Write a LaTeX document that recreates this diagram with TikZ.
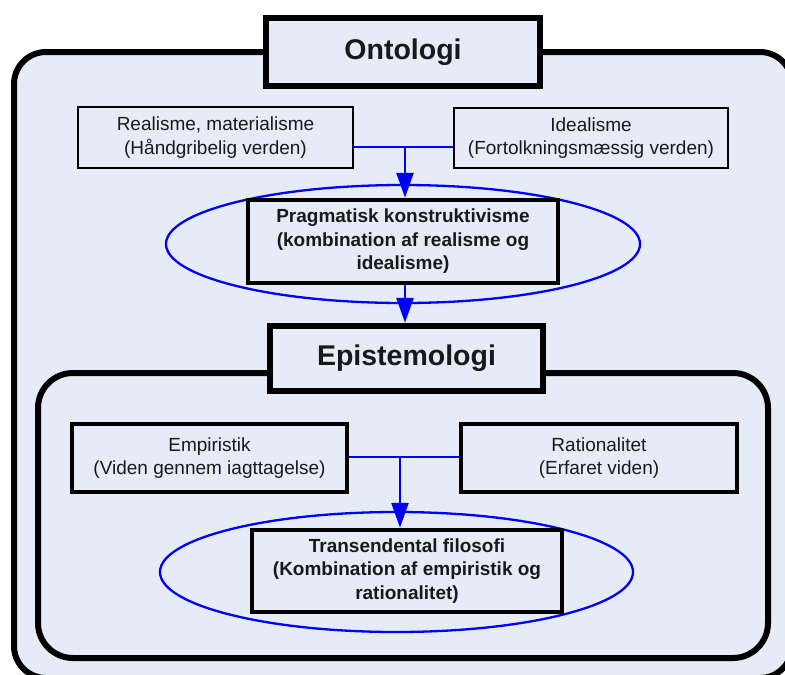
\documentclass[tikz,border=0pt]{standalone}
\usepackage{fontspec}
\setmainfont{Liberation Sans}
\usetikzlibrary{arrows.meta, shapes.geometric}
\definecolor{panelfill}{RGB}{230,236,247}
\definecolor{linkblue}{RGB}{0,0,250}
\definecolor{inktext}{RGB}{25,25,25}
\begin{document}
\begin{tikzpicture}[x=1pt, y=-1pt,
  panel/.style={draw=black, line width=6pt, fill=panelfill, rounded corners=32pt},
  titlebox/.style={rectangle, draw=black, line width=6.5pt, fill=panelfill, inner sep=0pt,
    text=inktext, font=\fontsize{28.5}{34}\selectfont\bfseries},
  thinbox/.style={rectangle, draw=black, line width=2.5pt, fill=panelfill, inner sep=0pt,
    align=center, text=inktext, font=\fontsize{19}{23.5}\selectfont},
  midbox/.style={thinbox, line width=4pt},
  corebox/.style={rectangle, draw=black, line width=4.5pt, fill=panelfill, inner sep=0pt,
    align=center, text=inktext, font=\fontsize{19}{23.5}\selectfont\bfseries},
  halo/.style={ellipse, draw=linkblue, line width=2.3pt, inner sep=0pt},
  link/.style={draw=linkblue, line width=2.7pt},
  flow/.style={link, -{Triangle[length=25pt, width=17pt]}}
]
\useasboundingbox (0,0) rectangle (785,675);

% outer frame (ontology)
\draw[panel] (14,52) rectangle (792,678);
\node[titlebox, minimum width=274pt, minimum height=68pt] (onto) at (403,52) {Ontologi};

\node[thinbox, minimum width=275pt, minimum height=61pt] (real) at (215.5,137.5)
  {Realisme, materialisme\\(Håndgribelig verden)};
\node[thinbox, minimum width=274pt, minimum height=60pt] (ideal) at (591,138)
  {Idealisme\\(Fortolkningsmæssig verden)};

\node[halo, minimum width=474pt, minimum height=118pt] (ring1) at (403,244) {};
\node[corebox, minimum width=310pt, minimum height=83pt] (prag) at (403,241.5)
  {Pragmatisk konstruktivisme\\(kombination af realisme og\\idealisme)};

% inner frame (epistemology)
\draw[panel, rounded corners=35pt] (38,373) rectangle (768,658);
\node[titlebox, minimum width=273pt, minimum height=65pt] (epist) at (406.5,358.5) {Epistemologi};

\node[midbox, minimum width=275pt, minimum height=68pt] (emp) at (209.5,458)
  {Empiristik\\(Viden gennem iagttagelse)};
\node[midbox, minimum width=276pt, minimum height=68pt] (rat) at (599,458)
  {Rationalitet\\(Erfaret viden)};

\node[halo, minimum width=473pt, minimum height=120pt] (ring2) at (396.5,572) {};
\node[corebox, minimum width=310pt, minimum height=82pt] (trans) at (407,571)
  {Transendental filosofi\\(Kombination af empiristik og\\rationalitet)};

% connectors
\coordinate (j1) at (405,147);
\draw[link] (real.east |- j1) -- (ideal.west |- j1);
\draw[flow] (j1) -- (j1 |- prag.north);
\draw[flow] (prag.south -| j1) -- (j1 |- epist.north);

\coordinate (j2) at (400,457);
\draw[link] (emp.east |- j2) -- (rat.west |- j2);
\draw[flow] (j2) -- (j2 |- trans.north);
\end{tikzpicture}
\end{document}
